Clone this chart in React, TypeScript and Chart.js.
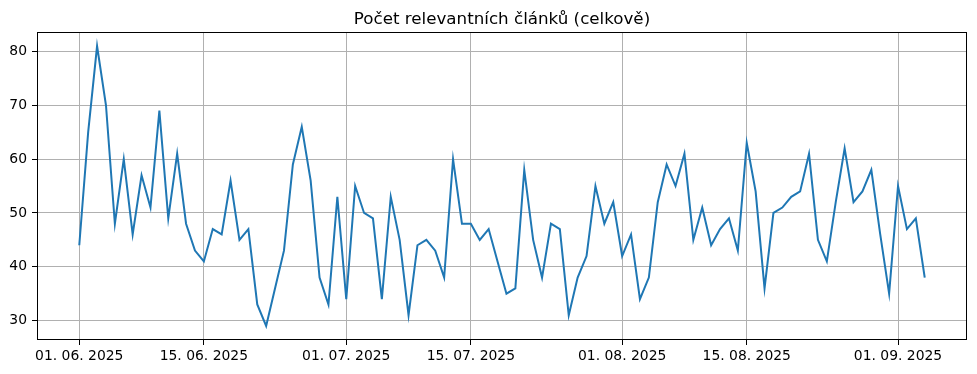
import React, { useEffect, useRef } from "react";
import { Chart, registerables } from "chart.js";

Chart.register(...registerables);

// Daily counts from 01. 06. 2025 (day 0) to 04. 09. 2025 (day 95)
const counts: number[] = [
  44, 65, 81, 70, 48, 60, 46, 57, 51, 69, 49, 61, 48, 43,
  41, 47, 46, 56, 45, 47, 33, 29, 36, 43, 59, 66, 56, 38, 33, 53,
  34, 55, 50, 49, 34, 53, 45, 31, 44, 45, 43, 38, 60, 48,
  48, 45, 47, 41, 35, 36, 58, 45, 38, 48, 47, 31, 38, 42, 55, 48, 52,
  42, 46, 34, 38, 52, 59, 55, 61, 45, 51, 44, 47, 49, 43,
  63, 54, 36, 50, 51, 53, 54, 61, 45, 41, 52, 62, 52, 54, 58, 46, 35,
  55, 47, 49, 38,
];
const dayIndex: number[] = counts.map((_, i) => i);
const xTickDays: number[] = [0, 14, 30, 44, 61, 75, 92];
const xTickLabels: string[] = [
  "01. 06. 2025",
  "15. 06. 2025",
  "01. 07. 2025",
  "15. 07. 2025",
  "01. 08. 2025",
  "15. 08. 2025",
  "01. 09. 2025",
];
const yTicks: number[] = [30, 40, 50, 60, 70, 80];
const title = "Počet relevantních článků (celkově)";

const FONT = "'DejaVu Sans', sans-serif";

const framePlugin = {
  id: "frame",
  afterDatasetsDraw(chart: any) {
    const { ctx, chartArea } = chart;
    ctx.save();
    ctx.strokeStyle = "#000";
    ctx.lineWidth = 1;
    ctx.strokeRect(
      Math.round(chartArea.left) + 0.5,
      Math.round(chartArea.top) + 0.5,
      Math.round(chartArea.right - chartArea.left) - 1,
      Math.round(chartArea.bottom - chartArea.top) - 1
    );
    ctx.restore();
  },
};

export default function App() {
  const ref = useRef<HTMLCanvasElement | null>(null);
  useEffect(() => {
    document.body.style.margin = "0";
    const canvas = ref.current;
    if (!canvas) return;
    const chart = new Chart(canvas, {
      type: "line",
      data: {
        datasets: [
          {
            data: dayIndex.map((d, i) => ({ x: d, y: counts[i] })),
            borderColor: "#1f77b4",
            borderWidth: 2,
            pointRadius: 0,
            tension: 0,
            fill: false,
          },
        ],
      },
      options: {
        animation: false,
        responsive: false,
        devicePixelRatio: 1,
        layout: { padding: { left: 0, right: 10, top: 0, bottom: 0 } },
        plugins: {
          legend: { display: false },
          tooltip: { enabled: false },
          title: {
            display: true,
            fullSize: false,
            text: title,
            color: "#000",
            font: { family: FONT, size: 16.7, weight: "normal" as any },
            padding: { top: 10, bottom: 2 },
          },
        },
        scales: {
          x: {
            type: "linear",
            min: -4.75,
            max: 99.75,
            afterBuildTicks: (scale: any) => {
              scale.ticks = xTickDays.map((v) => ({ value: v }));
            },
            afterFit: (scale: any) => {
              scale.height = 34;
            },
            ticks: {
              autoSkip: false,
              maxRotation: 0,
              color: "#000",
              padding: 3,
              font: { family: FONT, size: 13.9 },
              callback: (v: any) => {
                const idx = xTickDays.indexOf(Number(v));
                return idx >= 0 ? xTickLabels[idx] : "";
              },
            },
            grid: {
              color: "#b0b0b0",
              lineWidth: 1,
              drawTicks: true,
              tickLength: 5,
              tickColor: "#000",
              tickWidth: 1,
            },
            border: { display: false },
          },
          y: {
            type: "linear",
            min: 26.4,
            max: 83.6,
            afterBuildTicks: (scale: any) => {
              scale.ticks = yTicks.map((v) => ({ value: v }));
            },
            afterFit: (scale: any) => {
              scale.width = 37;
            },
            ticks: {
              color: "#000",
              padding: 5,
              font: { family: FONT, size: 13.9 },
              callback: (v: any) => String(v),
            },
            grid: {
              color: "#b0b0b0",
              lineWidth: 1,
              drawTicks: true,
              tickLength: 5,
              tickColor: "#000",
              tickWidth: 1,
            },
            border: { display: false },
          },
        },
      },
      plugins: [framePlugin],
    });
    return () => chart.destroy();
  }, []);
  return (
    <div style={{ width: 977, height: 374, background: "#fff" }}>
      <canvas ref={ref} width={977} height={374} style={{ display: "block" }} />
    </div>
  );
}
